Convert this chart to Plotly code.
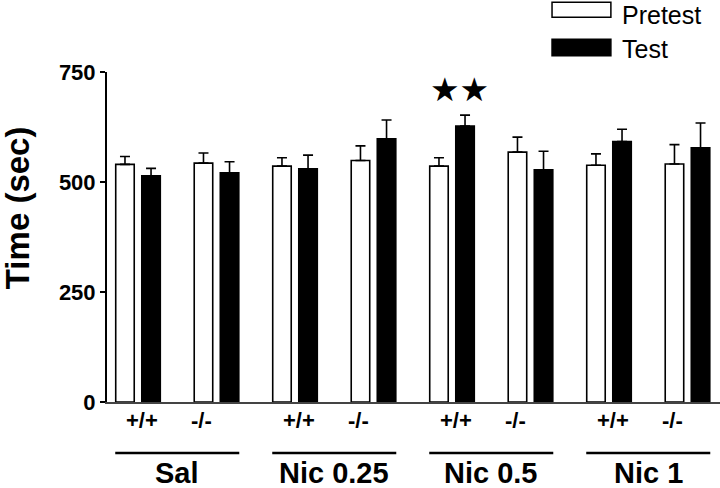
import plotly.graph_objects as go

genotypes = ["+/+", "-/-", "+/+", "-/-", "+/+", "-/-", "+/+", "-/-"]
groups = ["Sal", "Nic 0.25", "Nic 0.5", "Nic 1"]
pretest = [540, 543, 536, 549, 536, 568, 538, 541]
pretest_err = [18, 23, 19, 33, 19, 34, 26, 44]
test = [514, 521, 530, 598, 627, 528, 592, 578]
test_err = [17, 25, 31, 43, 25, 42, 28, 56]
sig_index = 4  # Nic 0.5 +/+ test bar marked with stars
y_ticks = [0, 250, 500, 750]

xs = list(range(len(genotypes)))
FONT = "Liberation Sans, Arial, sans-serif"

fig = go.Figure()
fig.add_trace(go.Bar(
    x=xs, y=pretest, name="Pretest",
    marker=dict(color="white", line=dict(color="black", width=1.6)),
    error_y=dict(type="data", symmetric=False, array=pretest_err,
                 arrayminus=[0] * len(pretest), color="black", thickness=1.6, width=5),
))
fig.add_trace(go.Bar(
    x=xs, y=test, name="Test",
    marker=dict(color="black", line=dict(color="black", width=1.6)),
    error_y=dict(type="data", symmetric=False, array=test_err,
                 arrayminus=[0] * len(test), color="black", thickness=1.6, width=5),
))

annotations = []
# genotype labels
for i, g in enumerate(genotypes):
    annotations.append(dict(
        x=i, y=-0.101, xref="x", yref="paper", text=g, showarrow=False,
        xshift=4 if g == "+/+" else -15,
        font=dict(family=FONT, size=22, color="black", weight="bold"),
    ))
# group labels and underlines
shapes = []
for j, gname in enumerate(groups):
    c = 2 * j + 0.5
    annotations.append(dict(
        x=c, y=-0.214, xref="x", yref="paper", text=gname, showarrow=False,
        yanchor="middle", borderpad=0,
        font=dict(family=FONT, size=29, color="black", weight="bold"),
    ))
    shapes.append(dict(
        type="line", xref="x", yref="paper", x0=c - 0.79, x1=c + 0.79,
        y0=-0.1545, y1=-0.1545, line=dict(color="black", width=2.5),
    ))
# stars
annotations.append(dict(
    x=sig_index + 0.1, y=test[sig_index] + test_err[sig_index], xref="x", yref="y",
    text="★★", showarrow=False, yanchor="bottom", yshift=4,
    font=dict(family="DejaVu Sans", size=33, color="black"),
))
# y axis title
annotations.append(dict(
    x=-0.147, y=0.59, xref="paper", yref="paper", text="Time (sec)",
    showarrow=False, textangle=-90, xanchor="center", yanchor="middle",
    font=dict(family=FONT, size=33, color="black", weight="bold"),
))
# custom legend
legend_items = [("Pretest", "white", 1.211, 1.166), ("Test", "black", 1.099, 1.049)]
for k, (label, col, ytop, ybot) in enumerate(legend_items):
    shapes.append(dict(
        type="rect", xref="paper", yref="paper", x0=0.726, x1=0.822,
        y0=ybot, y1=ytop, fillcolor=col, line=dict(color="black", width=1.5),
    ))
    if k == 0:
        pos = dict(y=1.2172, yanchor="top")
    else:
        pos = dict(y=(ytop + ybot) / 2 - 0.004, yanchor="middle")
    annotations.append(dict(
        x=0.8385, xref="paper", yref="paper", text=label,
        showarrow=False, xanchor="left", borderpad=0,
        font=dict(family=FONT, size=25, color="black"), **pos,
    ))

fig.update_layout(
    width=720, height=488,
    margin=dict(l=107, r=0, t=72, b=86),
    paper_bgcolor="white", plot_bgcolor="white",
    barmode="group", bargap=0.336, bargroupgap=0.29,
    showlegend=False,
    annotations=annotations, shapes=shapes,
    xaxis=dict(range=[-0.395, 7.414], showticklabels=False, ticks="",
               showgrid=False, zeroline=False, showline=True,
               linecolor="#444", linewidth=1.5),
    yaxis=dict(range=[0, 750], tickvals=y_ticks, ticks="outside", ticklen=5,
               tickwidth=1.5, tickcolor="black", showgrid=False, zeroline=False,
               showline=True, linecolor="black", linewidth=2,
               tickfont=dict(family=FONT, size=22, color="black", weight="bold")),
)

fig.write_html(
    "out.html",
    config={"displayModeBar": False},
    post_script="document.body.style.margin='0';document.body.style.overflow='hidden';",
)
